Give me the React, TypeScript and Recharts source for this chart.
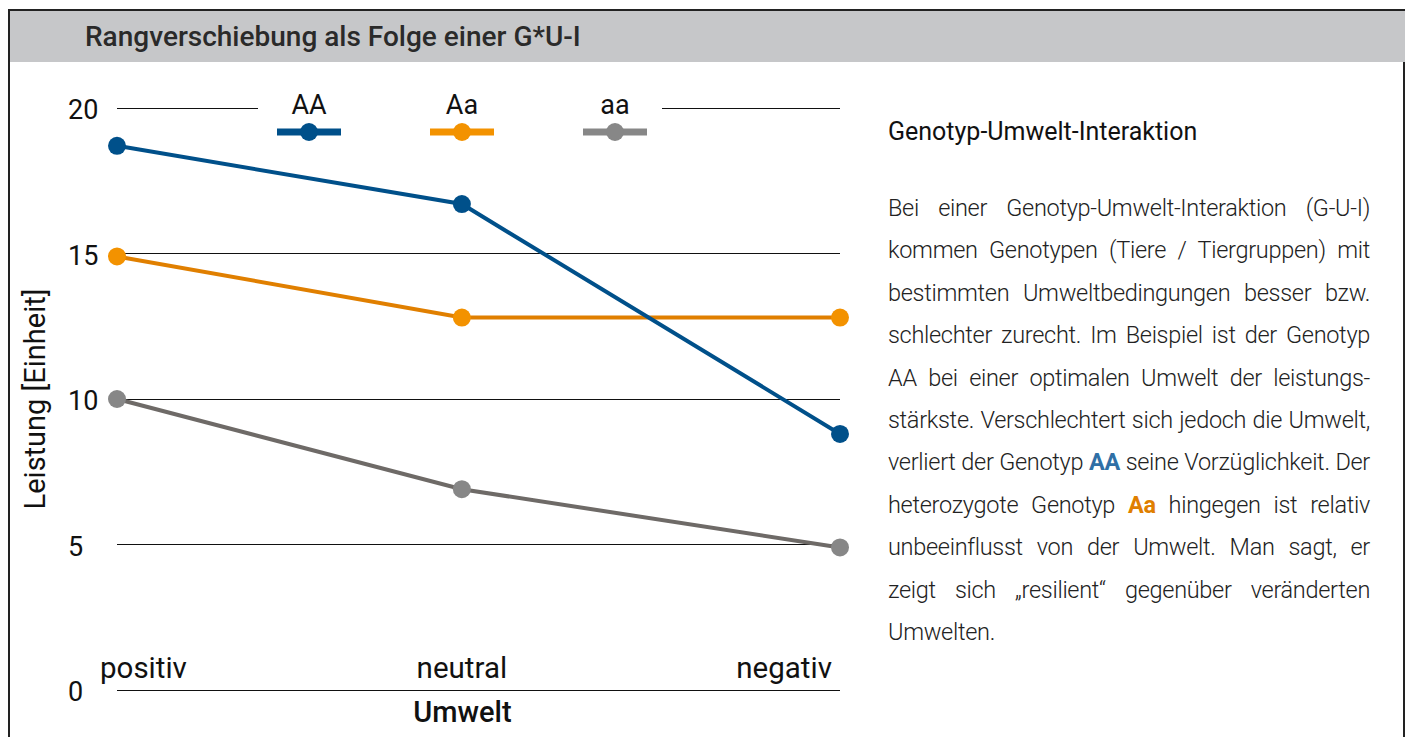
import React from 'react'
import { LineChart, Line, XAxis, YAxis, CartesianGrid } from 'recharts'

// Umwelt categories and their position on the environment scale
const umwelt = ['positiv', 'neutral', 'negativ']
const umweltPos = [0, 47.7, 100]

// Leistung per genotype
const valuesAA = [18.7, 16.7, 8.8]
const valuesAa = [14.9, 12.8, 12.8]
const valuesaa = [10, 6.9, 4.9]

const yTicks = [0, 5, 10, 15, 20]

const series = [
  { key: 'aa', name: 'aa', line: '#6e6a67', dot: '#878787' },
  { key: 'Aa', name: 'Aa', line: '#e07f00', dot: '#f39200' },
  { key: 'AA', name: 'AA', line: '#00508a', dot: '#00508a' },
]
const legendOrder = ['AA', 'Aa', 'aa']

const data = umwelt.map((u, i) => ({
  umwelt: u,
  pos: umweltPos[i],
  AA: valuesAA[i],
  Aa: valuesAa[i],
  aa: valuesaa[i],
}))

const BLUE_TXT = '#2f6fa6'
const ORANGE_TXT = '#e07f00'

type Piece = string | { b: string; c: string }
const textLines: Piece[][] = [
  ['Bei einer Genotyp-Umwelt-Interaktion (G-U-I)'],
  ['kommen Genotypen (Tiere / Tiergruppen) mit'],
  ['bestimmten Umweltbedingungen besser bzw.'],
  ['schlechter zurecht. Im Beispiel ist der Genotyp'],
  ['AA bei einer optimalen Umwelt der leistungs-'],
  ['stärkste. Verschlechtert sich jedoch die Umwelt,'],
  ['verliert der Genotyp ', { b: 'AA', c: BLUE_TXT }, ' seine Vorzüglichkeit. Der'],
  ['heterozygote Genotyp ', { b: 'Aa', c: ORANGE_TXT }, ' hingegen ist relativ'],
  ['unbeeinflusst von der Umwelt. Man sagt, er'],
  ['zeigt sich „resilient“ gegenüber veränderten'],
  ['Umwelten.'],
]

const FONT = 'Roboto, "Noto Sans", sans-serif'

function YTick({ y, payload }: any) {
  return (
    <text x={68} y={y} dy={2} textAnchor="start" dominantBaseline="central"
      fontFamily={FONT} fontSize={27} fill="#111">
      {payload.value}
    </text>
  )
}

function XTick({ x, y, payload, index }: any) {
  const anchor = index === 0 ? 'start' : index === 2 ? 'end' : 'middle'
  const dx = index === 0 ? -17 : index === 2 ? -8 : 0
  return (
    <text x={x + dx} y={y - 30} textAnchor={anchor} dominantBaseline="central"
      fontFamily={FONT} fontSize={29.5} fill="#111">
      {umwelt[umweltPos.indexOf(payload.value)]}
    </text>
  )
}

function Swatch({ color }: { color: string }) {
  return (
    <svg width={64} height={20} style={{ display: 'block' }}>
      <rect x={0} y={6.5} width={64} height={7} fill={color} />
      <circle cx={32} cy={10} r={9} fill={color} />
    </svg>
  )
}

export default function App() {
  return (
    <div style={{ position: 'fixed', left: 0, top: 0, width: 1413, height: 737, background: '#fff', overflow: 'hidden', fontFamily: FONT }}>
      {/* frame + header */}
      <div style={{ position: 'absolute', left: 8, top: 9, width: 1397, height: 760, border: '2px solid #222', boxSizing: 'border-box' }} />
      <div style={{ position: 'absolute', left: 10, top: 11, width: 1395, height: 51, background: '#c6c7c9' }} />
      <div style={{ position: 'absolute', left: 85, top: 19, fontSize: 28, fontWeight: 500, color: '#2a2a2a', lineHeight: '36px' }}>
        Rangverschiebung als Folge einer G*U-I
      </div>

      <div style={{ position: 'absolute', left: 0, top: 0 }}>
        <LineChart width={900} height={737} data={data} margin={{ top: 108, right: 60, bottom: 0, left: 0 }}>
          <CartesianGrid vertical={false} stroke="#111" strokeWidth={1} shapeRendering="crispEdges" />
          <XAxis
            type="number"
            dataKey="pos"
            domain={[0, 100]}
            ticks={umweltPos}
            height={47}
            axisLine={{ stroke: '#111', strokeWidth: 1, shapeRendering: 'crispEdges' }}
            tickLine={false}
            tick={<XTick />}
            label={({ viewBox }: any) => (
              <text x={viewBox.x + viewBox.width / 2 - 16} y={viewBox.y + 22} textAnchor="middle" dominantBaseline="central"
                fontFamily={FONT} fontSize={29} fontWeight={500} fill="#111">
                Umwelt
              </text>
            )}
          />
          <YAxis
            domain={[0, 20]}
            ticks={yTicks}
            width={117}
            axisLine={false}
            tickLine={false}
            tick={<YTick />}
            label={({ viewBox }: any) => {
              const cx = viewBox.x + 35
              const cy = viewBox.y + viewBox.height / 2
              return (
                <text x={cx} y={cy} transform={`rotate(-90 ${cx} ${cy})`} textAnchor="middle" dominantBaseline="central"
                  fontFamily={FONT} fontSize={29} fill="#111">
                  Leistung [Einheit]
                </text>
              )
            }}
          />
          {series.map(s => (
            <Line
              key={s.key}
              type="linear"
              dataKey={s.key}
              name={s.name}
              stroke={s.line}
              strokeWidth={4}
              dot={{ r: 9, fill: s.dot, stroke: 'none' }}
              activeDot={false}
              isAnimationActive={false}
            />
          ))}
        </LineChart>
      </div>

      {/* legend over the top gridline */}
      <div style={{ position: 'absolute', left: 258, top: 88, width: 404, height: 56, background: '#fff' }}>
        {legendOrder.map((k, i) => {
          const s = series.find(x => x.key === k)!
          return (
            <div key={k} style={{ position: 'absolute', left: 19 + i * 153, top: 0, width: 64 }}>
              <div style={{ textAlign: 'center', fontSize: 27, lineHeight: '34px', color: '#111' }}>{s.name}</div>
              <Swatch color={s.dot} />
            </div>
          )
        })}
      </div>

      {/* explanatory text */}
      <div style={{ position: 'absolute', left: 888, top: 116, fontSize: 25, color: '#111', lineHeight: '32px' }}>
        Genotyp-Umwelt-Interaktion
      </div>
      <div style={{ position: 'absolute', left: 888, top: 187, width: 482, fontSize: 23.5, fontWeight: 300, color: '#222', letterSpacing: -0.3 }}>
        {textLines.map((ln, i) => (
          <div key={i} style={{
            height: 42.4, lineHeight: '42.4px', whiteSpace: 'nowrap',
            textAlign: 'justify', textAlignLast: i === textLines.length - 1 ? 'left' : 'justify',
          }}>
            {ln.map((p, j) => typeof p === 'string'
              ? <span key={j}>{p}</span>
              : <span key={j} style={{ fontWeight: 700, color: p.c }}>{p.b}</span>)}
          </div>
        ))}
      </div>
    </div>
  )
}
